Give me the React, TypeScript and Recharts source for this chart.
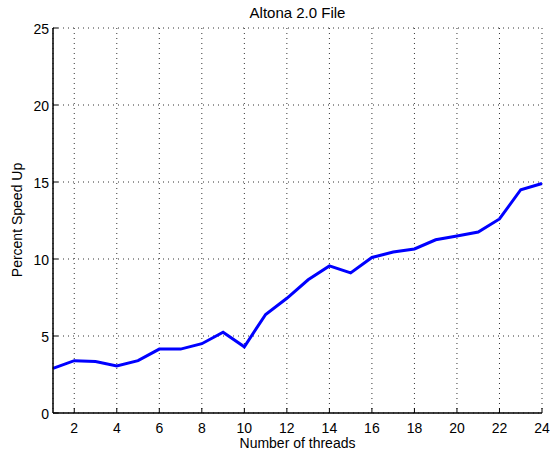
import { CartesianGrid, Line, LineChart, XAxis, YAxis } from "recharts";

const threads = [1, 2, 3, 4, 5, 6, 7, 8, 9, 10, 11, 12, 13, 14, 15, 16, 17, 18, 19, 20, 21, 22, 23, 24];
const speedUp = [
  2.9, 3.4, 3.35, 3.05, 3.4, 4.15, 4.15, 4.5, 5.25, 4.3, 6.4, 7.45, 8.65, 9.55, 9.1, 10.1, 10.45,
  10.65, 11.25, 11.5, 11.75, 12.6, 14.5, 14.9,
];
const xTicks = [2, 4, 6, 8, 10, 12, 14, 16, 18, 20, 22, 24];
const yTicks = [0, 5, 10, 15, 20, 25];

const data = threads.map((t, i) => ({ threads: t, speedUp: speedUp[i] }));

const FONT = "'Liberation Sans', Arial, Helvetica, sans-serif";
const TICK_LEN = 5;

function BottomTick({ x, y, payload }: any) {
  return (
    <g>
      <line x1={x} y1={y} x2={x} y2={y - TICK_LEN} stroke="#000" />
      <text x={x} y={y + 20} textAnchor="middle" fontSize={14} fontFamily={FONT} fill="#000">
        {payload.value}
      </text>
    </g>
  );
}

function TopTick({ x, y }: any) {
  return <line x1={x} y1={y} x2={x} y2={y + TICK_LEN} stroke="#000" />;
}

function LeftTick({ x, y, payload }: any) {
  return (
    <g>
      <line x1={x} y1={y} x2={x + TICK_LEN} y2={y} stroke="#000" />
      <text x={x - 4} y={y + 5.5} textAnchor="end" fontSize={14} fontFamily={FONT} fill="#000">
        {payload.value}
      </text>
    </g>
  );
}

function RightTick({ x, y }: any) {
  return <line x1={x} y1={y} x2={x - TICK_LEN} y2={y} stroke="#000" />;
}

export default function App() {
  return (
    <div style={{ width: 550, height: 454, background: "#fff", position: "absolute", left: 0, top: 0 }}>
      <style>{"body{margin:0}"}</style>
      <LineChart
        width={550}
        height={454}
        data={data}
        margin={{ top: 28, right: 8, bottom: 11, left: 0 }}
      >
        <text x={297.5} y={18} textAnchor="middle" fontSize={15} fontFamily={FONT} fill="#000">
          Altona 2.0 File
        </text>
        <text
          x={21.5}
          y={220}
          textAnchor="middle"
          fontSize={14}
          fontFamily={FONT}
          fill="#000"
          transform="rotate(-90 21.5 220)"
        >
          Percent Speed Up
        </text>
        <text x={297.5} y={448} textAnchor="middle" fontSize={14} fontFamily={FONT} fill="#000">
          Number of threads
        </text>
        <CartesianGrid stroke="#333" strokeDasharray="1 4" />
        <XAxis
          dataKey="threads"
          type="number"
          domain={[1, 24]}
          ticks={xTicks}
          height={30}
          tickSize={0}
          tickMargin={0}
          tickLine={false}
          axisLine={{ stroke: "#000", strokeWidth: 1.5 }}
          tick={<BottomTick />}
          interval={0}
        />
        <XAxis
          xAxisId="top"
          orientation="top"
          type="number"
          domain={[1, 24]}
          ticks={xTicks}
          height={0}
          tickSize={0}
          tickMargin={0}
          tickLine={false}
          axisLine={{ stroke: "#000", strokeWidth: 1.5 }}
          tick={<TopTick />}
          interval={0}
        />
        <YAxis
          type="number"
          domain={[0, 25]}
          ticks={yTicks}
          width={53}
          tickSize={0}
          tickMargin={0}
          tickLine={false}
          axisLine={{ stroke: "#000", strokeWidth: 1.5 }}
          tick={<LeftTick />}
          interval={0}
        />
        <YAxis
          yAxisId="right"
          orientation="right"
          type="number"
          domain={[0, 25]}
          ticks={yTicks}
          width={0}
          tickSize={0}
          tickMargin={0}
          tickLine={false}
          axisLine={{ stroke: "#000", strokeWidth: 1.5 }}
          tick={<RightTick />}
          interval={0}
        />
        <Line
          dataKey="speedUp"
          stroke="#0000ff"
          strokeWidth={3}
          dot={false}
          type="linear"
          isAnimationActive={false}
        />
      </LineChart>
    </div>
  );
}
